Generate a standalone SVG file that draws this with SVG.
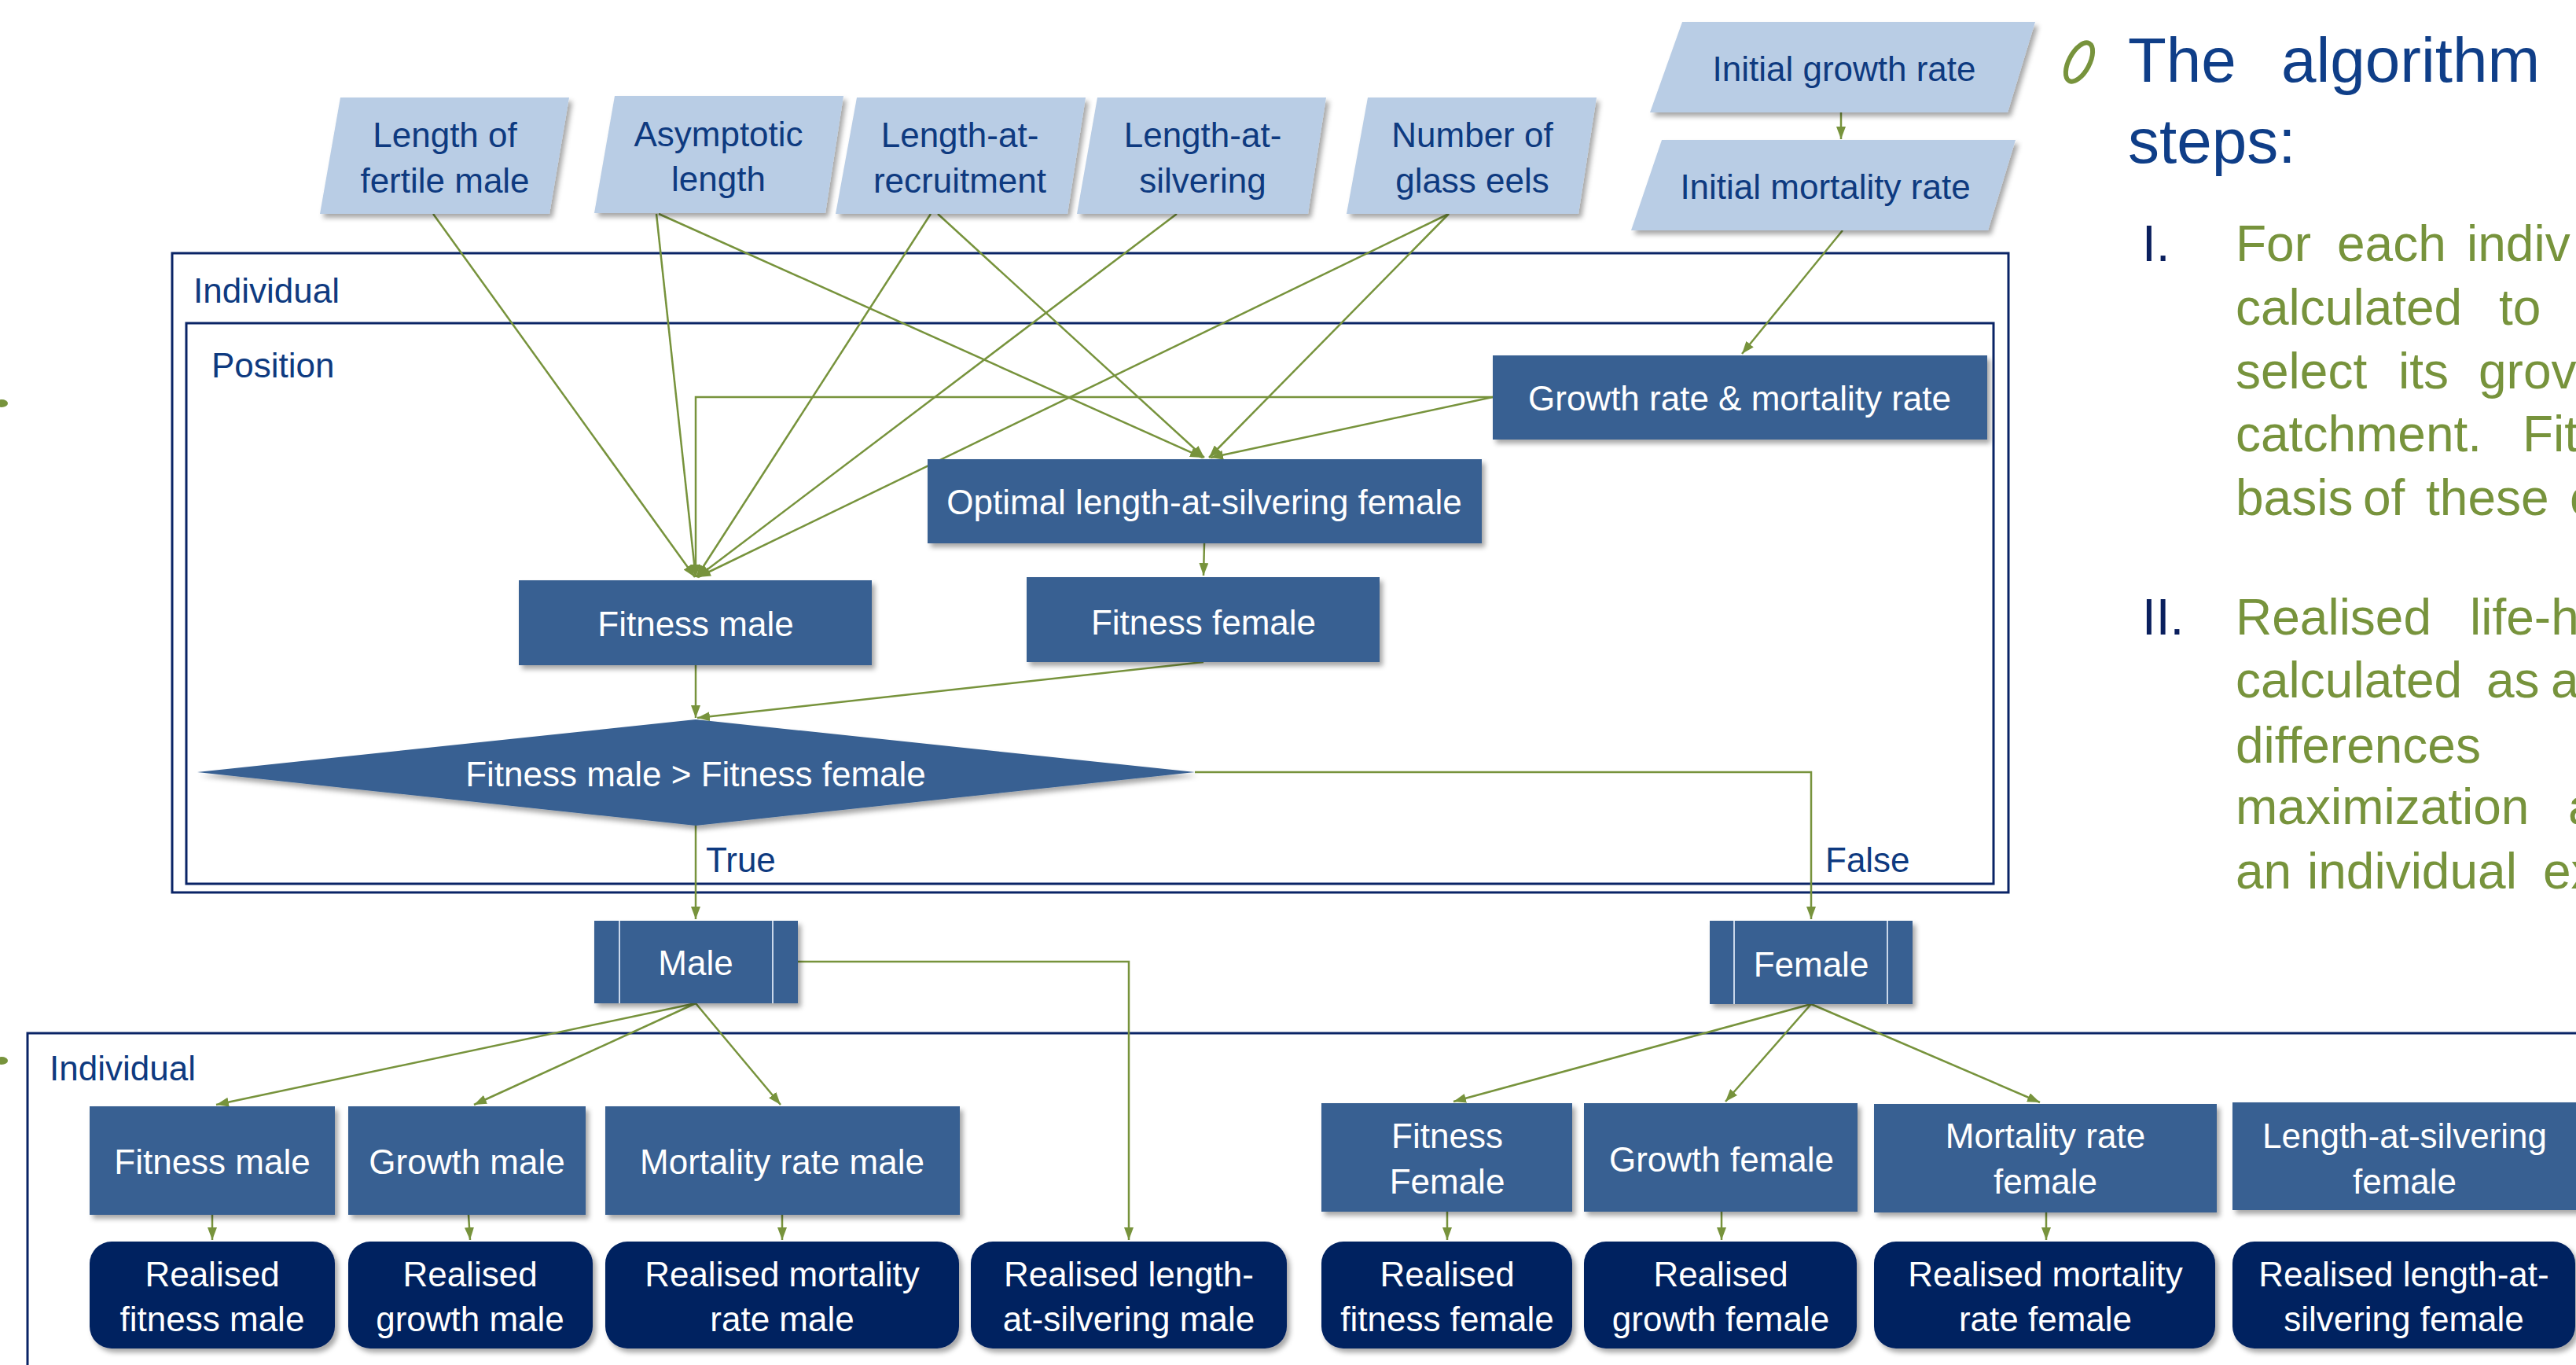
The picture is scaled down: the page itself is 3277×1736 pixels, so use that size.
<svg xmlns="http://www.w3.org/2000/svg" width="3277" height="1736" viewBox="0 0 3277 1736">
<style>
text{font-family:"Liberation Sans",Arial,sans-serif}
.inp{fill:#B9CDE5;filter:url(#sh)}
.node{fill:#376092;filter:url(#sh)}
.real{fill:#002060;filter:url(#sh)}
.frame{fill:none;stroke:#0A2466;stroke-width:3}
.tin{font-size:44px;fill:#0E3A80;text-anchor:middle}
.tw{font-size:44px;fill:#FFFFFF;text-anchor:middle}
.lbl{font-size:44px;fill:#0E3A80}
.edge{stroke:#77933C;stroke-width:2.5;fill:none;marker-end:url(#ah)}
.bar{stroke:#C9D7EA;stroke-width:2}
.ttl{font-size:80px;fill:#0F3E88}
.num{font-size:64px;fill:#0A1F5E}
.gt{font-size:64px;fill:#77933C}
</style>
<defs>
<filter id="sh" x="-5%" y="-10%" width="112%" height="130%">
<feDropShadow dx="4" dy="5" stdDeviation="3" flood-color="#000" flood-opacity="0.35"/>
</filter>
<marker id="ah" markerUnits="userSpaceOnUse" markerWidth="16" markerHeight="12" refX="16" refY="6" orient="auto" viewBox="0 0 16 12">
<path d="M0,0 L16,6 L0,12 z" fill="#77933C"/>
</marker>
</defs>
<rect width="3277" height="1736" fill="#FFFFFF"/>

<!-- clipped bullet fragments at left edge -->
<ellipse cx="2" cy="513" rx="8" ry="5" fill="#77933C"/>
<ellipse cx="2" cy="1349" rx="8" ry="5" fill="#77933C"/>

<!-- containers -->
<g id="individual-top">
<rect class="frame" x="219" y="322" width="2336" height="813"/>
<text class="lbl" x="246" y="385">Individual</text>
</g>
<g id="position">
<rect class="frame" x="237" y="411" width="2299" height="713"/>
<text class="lbl" x="269" y="480">Position</text>
</g>
<g id="individual-bottom">
<rect class="frame" x="35" y="1314" width="3300" height="500"/>
<text class="lbl" x="63" y="1374">Individual</text>
</g>

<!-- connectors -->
<g id="connectors">
<line class="edge" x1="551" y1="272" x2="884" y2="734"/>
<line class="edge" x1="835" y1="272" x2="885" y2="734"/>
<polyline class="edge" points="1899,505 885,505 885,734"/>
<line class="edge" x1="1184" y1="272" x2="886" y2="734"/>
<line class="edge" x1="1497" y1="272" x2="887" y2="734"/>
<line class="edge" x1="1843" y1="272" x2="888" y2="734"/>
<line class="edge" x1="838" y1="272" x2="1530" y2="582"/>
<line class="edge" x1="1193" y1="272" x2="1532" y2="582"/>
<line class="edge" x1="1843" y1="272" x2="1538" y2="582"/>
<line class="edge" x1="1899" y1="505" x2="1540" y2="582"/>
<line class="edge" x1="2342" y1="143" x2="2342" y2="177"/>
<line class="edge" x1="2344" y1="293" x2="2216" y2="450"/>
<line class="edge" x1="1532" y1="691" x2="1531" y2="732"/>
<line class="edge" x1="885" y1="846" x2="885" y2="913"/>
<line class="edge" x1="1531" y1="842" x2="887" y2="913"/>
<line class="edge" x1="885" y1="1050" x2="885" y2="1169"/>
<polyline class="edge" points="1520,982 2304,982 2304,1169"/>
<line class="edge" x1="885" y1="1276" x2="275" y2="1405"/>
<line class="edge" x1="885" y1="1276" x2="603" y2="1405"/>
<line class="edge" x1="885" y1="1276" x2="993" y2="1405"/>
<polyline class="edge" points="1015,1223 1436,1223 1436,1577"/>
<line class="edge" x1="2304" y1="1277" x2="1849" y2="1401"/>
<line class="edge" x1="2304" y1="1277" x2="2195" y2="1401"/>
<line class="edge" x1="2304" y1="1277" x2="2595" y2="1402"/>
<line class="edge" x1="270" y1="1545" x2="270" y2="1577"/>
<line class="edge" x1="596" y1="1545" x2="598" y2="1577"/>
<line class="edge" x1="995" y1="1545" x2="995" y2="1577"/>
<line class="edge" x1="1841" y1="1541" x2="1841" y2="1577"/>
<line class="edge" x1="2190" y1="1541" x2="2190" y2="1577"/>
<line class="edge" x1="2603" y1="1542" x2="2603" y2="1577"/>
<text class="lbl" x="898" y="1109">True</text>
<text class="lbl" x="2322" y="1109">False</text>
</g>

<!-- inputs -->
<g id="in-fertile"><polygon class="inp" points="433,124 724,124 699,272 407,272"/>
<text class="tin" x="566" y="187">Length of</text><text class="tin" x="566" y="245">fertile male</text></g>
<g id="in-asymptotic"><polygon class="inp" points="782,122 1073,122 1050,271 756,271"/>
<text class="tin" x="914" y="186">Asymptotic</text><text class="tin" x="914" y="243">length</text></g>
<g id="in-recruitment"><polygon class="inp" points="1090,124 1381,124 1358,272 1063,272"/>
<text class="tin" x="1221" y="187">Length-at-</text><text class="tin" x="1221" y="245">recruitment</text></g>
<g id="in-silvering"><polygon class="inp" points="1396,124 1687,124 1664,272 1370,272"/>
<text class="tin" x="1530" y="187">Length-at-</text><text class="tin" x="1530" y="245">silvering</text></g>
<g id="in-glass"><polygon class="inp" points="1740,124 2031,124 2008,272 1713,272"/>
<text class="tin" x="1873" y="187">Number of</text><text class="tin" x="1873" y="245">glass eels</text></g>
<g id="in-growth"><polygon class="inp" points="2140,28 2589,28 2554,143 2099,143"/>
<text class="tin" x="2346" y="103">Initial growth rate</text></g>
<g id="in-mortality"><polygon class="inp" points="2114,178 2564,178 2529,293 2075,293"/>
<text class="tin" x="2322" y="253">Initial mortality rate</text></g>

<!-- position nodes -->
<g id="n-grm"><rect class="node" x="1899" y="452" width="629" height="107"/>
<text class="tw" x="2213" y="522">Growth rate &amp; mortality rate</text></g>
<g id="n-optimal"><rect class="node" x="1180" y="584" width="705" height="107"/>
<text class="tw" x="1532" y="654">Optimal length-at-silvering female</text></g>
<g id="n-fitm"><rect class="node" x="660" y="738" width="449" height="108"/>
<text class="tw" x="885" y="809">Fitness male</text></g>
<g id="n-fitf"><rect class="node" x="1306" y="734" width="449" height="108"/>
<text class="tw" x="1531" y="807">Fitness female</text></g>
<g id="n-decision"><polygon class="node" points="251,982 885,915 1520,982 885,1050"/>
<text class="tw" x="885" y="1000">Fitness male &gt; Fitness female</text></g>

<g id="n-male"><rect class="node" x="756" y="1171" width="259" height="105"/>
<line class="bar" x1="788" y1="1171" x2="788" y2="1276"/><line class="bar" x1="983" y1="1171" x2="983" y2="1276"/>
<text class="tw" x="885" y="1240">Male</text></g>
<g id="n-female"><rect class="node" x="2175" y="1171" width="258" height="106"/>
<line class="bar" x1="2206" y1="1171" x2="2206" y2="1277"/><line class="bar" x1="2401" y1="1171" x2="2401" y2="1277"/>
<text class="tw" x="2304" y="1242">Female</text></g>

<!-- male row -->
<g id="b-fitm"><rect class="node" x="114" y="1407" width="312" height="138"/>
<text class="tw" x="270" y="1493">Fitness male</text></g>
<g id="b-grm"><rect class="node" x="443" y="1407" width="302" height="138"/>
<text class="tw" x="594" y="1493">Growth male</text></g>
<g id="b-mortm"><rect class="node" x="770" y="1407" width="451" height="138"/>
<text class="tw" x="995" y="1493">Mortality rate male</text></g>
<!-- female row -->
<g id="b-fitf"><rect class="node" x="1681" y="1403" width="319" height="138"/>
<text class="tw" x="1841" y="1460">Fitness</text><text class="tw" x="1841" y="1518">Female</text></g>
<g id="b-grf"><rect class="node" x="2015" y="1403" width="348" height="138"/>
<text class="tw" x="2190" y="1490">Growth female</text></g>
<g id="b-mortf"><rect class="node" x="2384" y="1404" width="436" height="138"/>
<text class="tw" x="2602" y="1460">Mortality rate</text><text class="tw" x="2602" y="1518">female</text></g>
<g id="b-lsf"><rect class="node" x="2840" y="1402" width="450" height="137"/>
<text class="tw" x="3059" y="1460">Length-at-silvering</text><text class="tw" x="3059" y="1518">female</text></g>

<!-- realised -->
<g id="r-fitm"><rect class="real" x="114" y="1579" width="312" height="136" rx="28"/>
<text class="tw" x="270" y="1636">Realised</text><text class="tw" x="270" y="1693">fitness male</text></g>
<g id="r-grm"><rect class="real" x="443" y="1579" width="311" height="136" rx="28"/>
<text class="tw" x="598" y="1636">Realised</text><text class="tw" x="598" y="1693">growth male</text></g>
<g id="r-mortm"><rect class="real" x="770" y="1579" width="450" height="136" rx="28"/>
<text class="tw" x="995" y="1636">Realised mortality</text><text class="tw" x="995" y="1693">rate male</text></g>
<g id="r-lsm"><rect class="real" x="1235" y="1579" width="402" height="136" rx="28"/>
<text class="tw" x="1436" y="1636">Realised length-</text><text class="tw" x="1436" y="1693">at-silvering male</text></g>
<g id="r-fitf"><rect class="real" x="1681" y="1579" width="319" height="136" rx="28"/>
<text class="tw" x="1841" y="1636">Realised</text><text class="tw" x="1841" y="1693">fitness female</text></g>
<g id="r-grf"><rect class="real" x="2015" y="1579" width="347" height="136" rx="28"/>
<text class="tw" x="2189" y="1636">Realised</text><text class="tw" x="2189" y="1693">growth female</text></g>
<g id="r-mortf"><rect class="real" x="2384" y="1579" width="434" height="136" rx="28"/>
<text class="tw" x="2602" y="1636">Realised mortality</text><text class="tw" x="2602" y="1693">rate female</text></g>
<g id="r-lsf"><rect class="real" x="2840" y="1579" width="436" height="136" rx="28"/>
<text class="tw" x="3058" y="1636">Realised length-at-</text><text class="tw" x="3058" y="1693">silvering female</text></g>

<!-- right-hand text -->
<g id="notes">
<ellipse cx="2645" cy="79" rx="13" ry="27" transform="rotate(28 2645 79)" fill="none" stroke="#77933C" stroke-width="6"/>
<text class="ttl" x="2707" y="104">The</text><text class="ttl" x="2902" y="104">algorithm</text>
<text class="ttl" x="2707" y="207">steps:</text>
<text class="num" x="2725" y="332">I.</text>
<text class="gt" y="332"><tspan x="2844">For</tspan><tspan x="2973">each</tspan><tspan x="3138">indiv</tspan></text>
<text class="gt" y="413"><tspan x="2844">calculated</tspan><tspan x="3179">to</tspan></text>
<text class="gt" y="494"><tspan x="2844">select</tspan><tspan x="3051">its</tspan><tspan x="3153">grov</tspan></text>
<text class="gt" y="574"><tspan x="2844">catchment.</tspan><tspan x="3209">Fit</tspan></text>
<text class="gt" y="655"><tspan x="2844">basis</tspan><tspan x="3006">of</tspan><tspan x="3086">these</tspan><tspan x="3269">c</tspan></text>
<text class="num" x="2725" y="807">II.</text>
<text class="gt" y="807"><tspan x="2844">Realised</tspan><tspan x="3142">life-h</tspan></text>
<text class="gt" y="887"><tspan x="2844">calculated</tspan><tspan x="3163">as</tspan><tspan x="3245">a</tspan></text>
<text class="gt" x="2844" y="970">differences</text>
<text class="gt" y="1048"><tspan x="2844">maximization</tspan><tspan x="3267">a</tspan></text>
<text class="gt" y="1130"><tspan x="2844">an</tspan><tspan x="2935">individual</tspan><tspan x="3235">ex</tspan></text>
</g>
</svg>
